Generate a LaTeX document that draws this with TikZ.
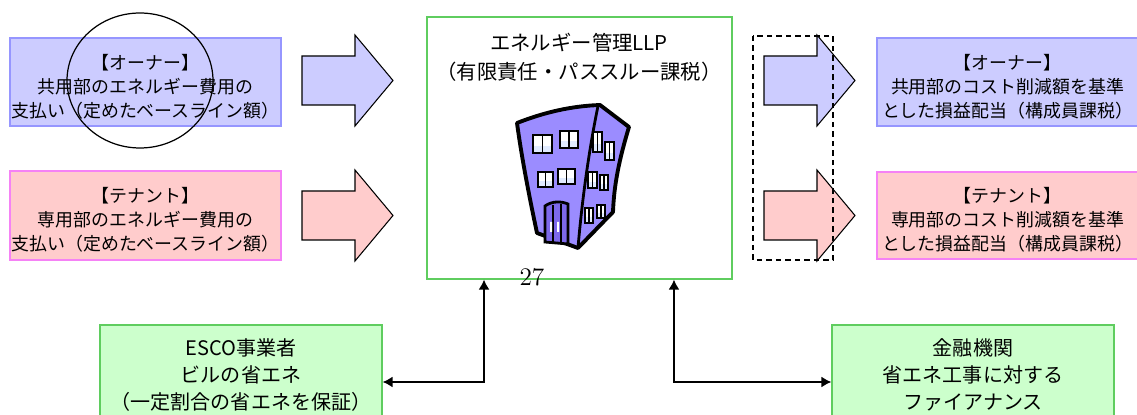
\documentclass[tikz,border=0pt]{standalone}
\usepackage{fontspec}
\newfontfamily\jpfont{Noto Sans CJK JP}
\usetikzlibrary{arrows.meta}

% Colours
\definecolor{r204g204b255}{RGB}{204,204,255}%
\definecolor{r150g150b255}{RGB}{150,150,255}%
\definecolor{r255g204b204}{RGB}{255,204,204}%
\definecolor{r245g130b245}{RGB}{245,130,245}%
\definecolor{r204g255b204}{RGB}{204,255,204}%
\definecolor{r95g205b95}{RGB}{95,205,95}%
\definecolor{r155g140b255}{RGB}{155,140,255}%
\definecolor{r125g105b235}{RGB}{125,105,235}%
\definecolor{r225g235b255}{RGB}{225,235,255}%

\tikzset{
  partybox/.style={rectangle, inner sep=0pt, line width=0.7pt},
  ownerbox/.style={partybox, fill=r204g204b255, draw=r150g150b255},
  tenantbox/.style={partybox, fill=r255g204b204, draw=r245g130b245},
  partytext/.style={inner sep=0pt, align=center, font=\jpfont\fontsize{10.2}{13.6}\selectfont},
  servicebox/.style={rectangle, inner sep=0pt, line width=0.8pt, align=center,
    fill=r204g255b204, draw=r95g205b95,
    minimum width=5.64cm, minimum height=2cm,
    font=\jpfont\fontsize{11.4}{15.4}\selectfont},
  flowlink/.style={line width=0.8pt, {Latex[length=0.2cm,width=0.22cm]}-{Latex[length=0.2cm,width=0.22cm]}},
  window/.style={draw=black, line width=1.1pt, fill=white},
}

\begin{document}
\begin{tikzpicture}[x=0.02cm, y=-0.02cm]
\useasboundingbox (0,0) rectangle (1137,415);

% Drawing the payers on the left
\node [ownerbox, minimum width=5.42cm, minimum height=1.76cm] (ownerin) at (145.5,82) {};
\node [partytext] (ownerintext) at ([yshift=-0.09cm]ownerin.center)
  {【オーナー】\\共用部のエネルギー費用の\\支払い（定めたベースライン額）};
\node [tenantbox, minimum width=5.42cm, minimum height=1.78cm] (tenantin) at (145.5,215.5) {};
\node [partytext] (tenantintext) at ([yshift=-0.09cm]tenantin.center)
  {【テナント】\\専用部のエネルギー費用の\\支払い（定めたベースライン額）};

% Drawing the receivers on the right
\node [ownerbox, minimum width=5.22cm, minimum height=1.76cm] (ownerout) at (1007.5,82) {};
\node [partytext] (ownerouttext) at ([yshift=-0.09cm]ownerout.center)
  {【オーナー】\\共用部のコスト削減額を基準\\とした損益配当（構成員課税）};
\node [tenantbox, minimum width=5.22cm, minimum height=1.74cm] (tenantout) at (1007.5,215.5) {};
\node [partytext] (tenantouttext) at ([yshift=-0.09cm]tenantout.center)
  {【テナント】\\専用部のコスト削減額を基準\\とした損益配当（構成員課税）};

% Drawing block arrows
\foreach \dx/\dy/\col in {0/0/r204g204b255, 0/135/r255g204b204, 462/0/r204g204b255, 462/135/r255g204b204}
  \filldraw [fill=\col, draw=black, line width=0.6pt, shift={(\dx,\dy)}]
    (302,56) -- (355,56) -- (355,35) -- (393,80.5) -- (355,126) -- (355,105) -- (302,105) -- cycle;%

% Drawing the LLP box
\node [draw=r95g205b95, line width=0.8pt, fill=white, minimum width=6.1cm, minimum height=5.24cm] (llp) at (579.5,148) {};
\node [font=\jpfont\fontsize{11.6}{16.5}\selectfont, align=center] (llptitle) at (579,57.5)
  {エネルギー管理LLP\\（有限責任・パススルー課税）};

% Drawing the building
\filldraw [fill=r155g140b255, draw=black, line width=2.2pt, line join=round]
  (517,123) .. controls (545,112) and (572,106) .. (600,105) -- (629,127)
  .. controls (619,160) and (614,185) .. (613,212) -- (578,248) -- (537,233)
  .. controls (530,200) and (522,160) .. (517,123) -- cycle;%
\draw [black, line width=1.6pt] (598,106) .. controls (589,150) and (582,200) .. (578,248);%
\foreach \x/\y/\w/\h in {533/135/19/18, 560/131/18/17, 538/172/15/15, 558/169/17/15,
                         593/132/9/20, 605/142/9/18, 588/172/9/16, 600/175/8/15, 585/208/8/15, 597/205/8/13}
{
  \filldraw [window] (\x,\y) rectangle ++(\w,\h);
  \fill [r225g235b255] (\x,\y+0.6*\h) rectangle ++(\w,0.4*\h);
  \draw [window, fill=none] (\x,\y) rectangle ++(\w,\h);
  \draw [black, line width=0.6pt] (\x+0.5*\w,\y) -- ++(0,\h);
}
% Door
\filldraw [fill=r125g105b235, draw=black, line width=1.6pt]
  (545,242) -- (545,206) .. controls (552,201) and (561,201) .. (568,204) -- (568,244) -- cycle;%
\draw [black, line width=0.6pt] (553,205) -- (553,243) (561,204) -- (561,244);%
\fill [white] (550,222) rectangle (552,232) (557,222) rectangle (559,232);%

% Marking the number on the bottom edge
\node (pagenum) at (532,277) {\fontsize{15}{18}\selectfont $27$};

% Drawing the circle round the owner heading
\draw [line width=0.7pt] (140,80.5) ellipse [x radius=1.46cm, y radius=1.35cm];%

% Drawing the dashed frame round the outgoing arrows
\draw [line width=1.3pt, dash pattern=on 0.11cm off 0.08cm] (753,36) rectangle (833,260);%

% Drawing the partners below
\node [servicebox] (esco) at (241,375)
  {ESCO事業者\\ビルの省エネ\\（一定割合の省エネを保証）};
\node [servicebox] (bank) at (973,375)
  {金融機関\\省エネ工事に対する\\ファイアナンス};

% Drawing links to the LLP
\draw [flowlink] ([xshift=-1.91cm]llp.south) |- ([yshift=-0.14cm]esco.east);%
\draw [flowlink] ([xshift=1.89cm]llp.south) |- ([yshift=-0.14cm]bank.west);%
\end{tikzpicture}
\end{document}
